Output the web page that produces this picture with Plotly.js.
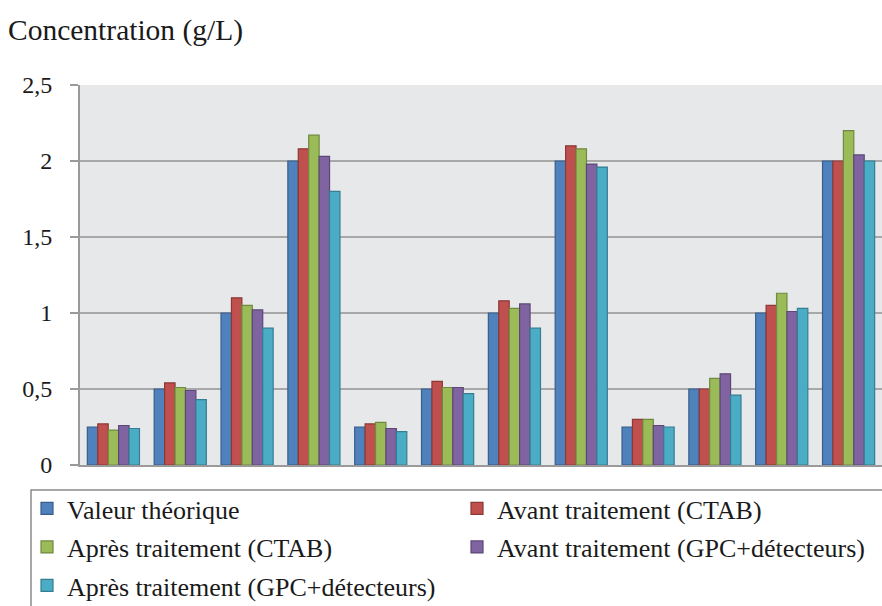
<!DOCTYPE html>
<html>
<head>
<meta charset="utf-8">
<script src="https://cdn.plot.ly/plotly-3.0.1.min.js"></script>
<style>html,body{margin:0;padding:0;background:#fff;}#chart{width:882px;height:606px;}</style>
</head>
<body>
<div id="chart"></div>
<script>
const categories = ["1","2","3","4","5","6","7","8","9","10","11","12"];
const seriesNames = [
  "Valeur théorique",
  "Avant traitement (CTAB)",
  "Après traitement (CTAB)",
  "Avant traitement (GPC+détecteurs)",
  "Après traitement (GPC+détecteurs)"
];
const valeurTheorique = [0.25, 0.5, 1.0, 2.0, 0.25, 0.5, 1.0, 2.0, 0.25, 0.5, 1.0, 2.0];
const avantCTAB       = [0.27, 0.54, 1.10, 2.08, 0.27, 0.55, 1.08, 2.10, 0.30, 0.50, 1.05, 2.00];
const apresCTAB       = [0.23, 0.51, 1.05, 2.17, 0.28, 0.51, 1.03, 2.08, 0.30, 0.57, 1.13, 2.20];
const avantGPC        = [0.26, 0.49, 1.02, 2.03, 0.24, 0.51, 1.06, 1.98, 0.26, 0.60, 1.01, 2.04];
const apresGPC        = [0.24, 0.43, 0.90, 1.80, 0.22, 0.47, 0.90, 1.96, 0.25, 0.46, 1.03, 2.00];
const yTickVals = [0, 0.5, 1, 1.5, 2, 2.5];
const yTickText = ["0", "0,5", "1", "1,5", "2", "2,5"];

const fills = ["#4F81BD", "#C0504D", "#9BBB59", "#8064A2", "#4BACC6"];
const edges = ["#385D8A", "#8C3836", "#71893F", "#5C4776", "#357D91"];
const legendIds = ["legend", "legend", "legend2", "legend2", "legend3"];
const allSeries = [valeurTheorique, avantCTAB, apresCTAB, avantGPC, apresGPC];

const traces = allSeries.map((vals, i) => ({
  type: "bar",
  name: seriesNames[i],
  x: categories,
  y: vals,
  legend: legendIds[i],
  marker: { color: fills[i], line: { color: edges[i], width: 1.2 } },
  hoverinfo: "skip"
}));

const font = "'Liberation Serif', 'Times New Roman', serif";
const plotL = 80, plotB = 465, plotW = 802, plotH = 380;
const px2x = px => (px - plotL) / plotW;
const px2y = py => (plotB - py) / plotH;

function legendAt(centerY) {
  return {
    orientation: "h",
    x: px2x(27),
    xanchor: "left",
    y: px2y(centerY),
    yanchor: "middle",
    entrywidth: 385,
    entrywidthmode: "pixels",
    traceorder: "normal",
    bgcolor: "rgba(0,0,0,0)",
    borderwidth: 0,
    font: { family: font, size: 26, color: "#1a1a1a" },
    itemclick: false,
    itemdoubleclick: false
  };
}

const layout = {
  width: 882,
  height: 606,
  margin: { l: 80, r: 0, t: 85, b: 141, autoexpand: false },
  paper_bgcolor: "#ffffff",
  plot_bgcolor: "#E7E8EA",
  barmode: "group",
  bargap: 0.22,
  bargroupgap: 0,
  font: { family: font, color: "#1a1a1a" },
  title: {
    text: "Concentration (g/L)",
    font: { family: font, size: 29.5, color: "#1a1a1a" },
    xref: "container", yref: "container",
    x: 8 / 882, xanchor: "left",
    y: 1 - 30 / 606, yanchor: "middle"
  },
  xaxis: {
    type: "category",
    showticklabels: false,
    ticks: "",
    showgrid: false,
    showline: true,
    linecolor: "#9a9a9a",
    linewidth: 2,
    zeroline: false,
    fixedrange: true
  },
  yaxis: {
    range: [0, 2.5],
    tickvals: yTickVals,
    ticktext: yTickText,
    ticks: "outside",
    ticklen: 8,
    tickwidth: 2,
    tickcolor: "#9a9a9a",
    ticklabelstandoff: 13,
    tickfont: { family: font, size: 24, color: "#1a1a1a" },
    showgrid: true,
    gridcolor: "#A8A8A8",
    gridwidth: 2,
    showline: true,
    linecolor: "#9a9a9a",
    linewidth: 2,
    zeroline: false,
    fixedrange: true
  },
  showlegend: true,
  legend: legendAt(508.5),
  legend2: legendAt(547),
  legend3: legendAt(585.5),
  shapes: [{
    type: "rect",
    xref: "paper", yref: "paper",
    x0: px2x(31), x1: px2x(900),
    y0: px2y(490), y1: px2y(640),
    line: { color: "#8a8a8a", width: 1.5 },
    fillcolor: "rgba(0,0,0,0)",
    layer: "below"
  }]
};

Plotly.newPlot("chart", traces, layout, { staticPlot: true, displayModeBar: false });
</script>
</body>
</html>
